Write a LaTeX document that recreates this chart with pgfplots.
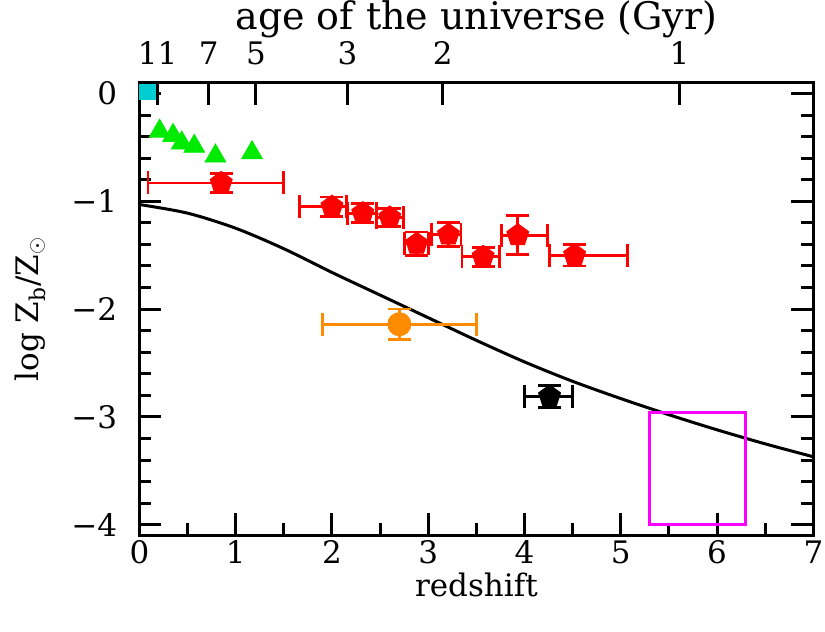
\documentclass[border=0pt]{standalone}
\usepackage{pgfplots}
\pgfplotsset{compat=1.18}
\usepackage{fontspec}
\setmainfont{DejaVu Serif}
\definecolor{mred}{RGB}{255,0,0}
\definecolor{mgreen}{RGB}{0,235,0}
\definecolor{morange}{RGB}{255,140,0}
\definecolor{mcyan}{RGB}{0,205,210}
\definecolor{mmag}{RGB}{255,0,255}

\pgfplotstableread{
x y xm xp ye
0.85 -0.83 0.76 0.65 0.09
2.00 -1.05 0.34 0.15 0.09
2.32 -1.11 0.16 0.14 0.09
2.60 -1.15 0.14 0.14 0.085
2.88 -1.395 0.13 0.12 0.11
3.21 -1.31 0.18 0.13 0.11
3.57 -1.515 0.22 0.17 0.09
3.93 -1.315 0.17 0.31 0.18
4.52 -1.50 0.26 0.55 0.10
}\redpts
\pgfplotstableread{
x y xm xp ye
2.70 -2.14 0.80 0.80 0.14
}\orangepts
\pgfplotstableread{
x y xm xp ye
4.26 -2.81 0.26 0.24 0.10
}\blackpts

\begin{document}
\fontsize{15.5}{18}\selectfont
\begin{tikzpicture}
\useasboundingbox (-69.7pt,-48.25pt) rectangle (342.8pt,267.75pt);
\pgfplotsset{
 base/.style={width=337pt, height=226.4pt, scale only axis,
   at={(0pt,0pt)}, anchor=south west,
   xmin=0, xmax=7, ymin=-4.1, ymax=0.1,
   axis line style={line width=1.5pt},
   every tick/.style={line width=1.5pt, black},
   tick align=inside, major tick length=11pt, minor tick length=6pt,
   tick label style={font=\fontsize{15.5}{18}\selectfont, inner sep=0pt},
   label style={font=\fontsize{15.5}{18}\selectfont, inner sep=0pt}},
 ebar/.style={error bars/.cd, x dir=both, x explicit, y dir=both, y explicit,
   error mark=|,
   error bar style={line width=1.4pt, color=#1},
   error mark options={line width=1.4pt, mark size=5.75pt, color=#1}},
}
\begin{axis}[base,
  xtick={0,1,2,3,4,5,6,7}, xticklabels={0,1,2,3,4,5,6,7},
  minor x tick num=1, xtick pos=left,
  ytick={-4,-3,-2,-1,0}, yticklabels={−4,−3,−2,−1,0},
  minor y tick num=4, ytick pos=both,
  xticklabel style={yshift=-2.5pt},
  yticklabel style={xshift=-11pt},
  xlabel={redshift},
  xlabel style={at={(axis description cs:0.5,0)}, anchor=center, yshift=-24.75pt},
  ylabel={log Z\textsubscript{b}/Z\textsubscript{$\odot$}},
  ylabel style={at={(axis description cs:0,0.5)}, anchor=center, yshift=54.5pt},
]
\addplot[black, line width=1.5pt, smooth] coordinates {
(0,-1.03) (0.5,-1.11) (1.0,-1.25) (1.5,-1.44) (2.0,-1.66) (2.5,-1.87)
(3.0,-2.08) (3.5,-2.29) (4.0,-2.49) (4.5,-2.67) (5.0,-2.83) (5.5,-2.98)
(6.0,-3.12) (6.5,-3.25) (7.0,-3.37)};
\addplot[mmag, line width=1.5pt] coordinates {(5.3,-2.96) (6.3,-2.96) (6.3,-4.0) (5.3,-4.0)} -- cycle;
\addplot[only marks, mark=triangle*, mark size=6pt, color=mgreen] coordinates {
(0.21,-0.35) (0.35,-0.39) (0.44,-0.46) (0.57,-0.49) (0.79,-0.58) (1.17,-0.55)};
\addplot[only marks, mark=square*, mark size=4pt, color=mcyan] coordinates {(0.08,0.02)};
\addplot[only marks, mark=pentagon*, mark size=5.8pt, color=mred, ebar=mred]
  table[x=x, y=y, x error minus=xm, x error plus=xp, y error=ye]{\redpts};
\addplot[only marks, mark=*, mark size=5.8pt, color=morange, ebar=morange]
  table[x=x, y=y, x error minus=xm, x error plus=xp, y error=ye]{\orangepts};
\addplot[only marks, mark=pentagon*, mark size=5.8pt, color=black, ebar=black]
  table[x=x, y=y, x error minus=xm, x error plus=xp, y error=ye]{\blackpts};
\end{axis}
\begin{axis}[base,
  axis x line*=top, axis y line=none,
  xtick={0.19,0.72,1.21,2.16,3.15,5.61}, xticklabels={11,7,5,3,2,1},
  minor xtick={},
  xticklabel style={yshift=8.8pt},
  xlabel={age of the universe (Gyr)},
  xlabel style={at={(axis description cs:0.5,1)}, anchor=center, yshift=31.5pt,
     font=\fontsize{19}{22}\selectfont},
]
\addplot[draw=none] coordinates {(0,0)};
\end{axis}
\end{tikzpicture}
\end{document}
